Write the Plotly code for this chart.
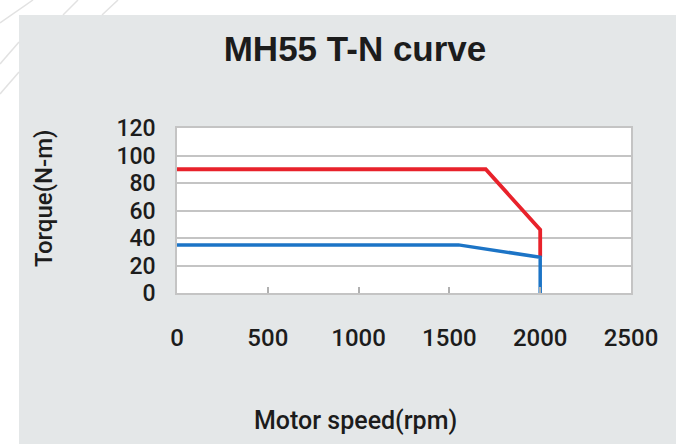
import plotly.graph_objects as go

# Data
speed_peak = [0, 1700, 2000, 2000]
torque_peak = [90, 90, 46, 26]
speed_rated = [0, 1550, 2000, 2000]
torque_rated = [35, 35, 26, 0]
x_ticks = [0, 500, 1000, 1500, 2000, 2500]
y_ticks = [0, 20, 40, 60, 80, 100, 120]

W, H = 676, 444
L, R, T, B = 177, 631, 128, 293  # plot area pixels


def px(x):
    return (x - L) / (R - L)


def py(y):
    return (B - y) / (B - T)


FONT = "Liberation Sans, Arial, sans-serif"
LFONT = "Roboto, Liberation Sans, Arial, sans-serif"
TXT = "#1c1c1c"
PANEL = "#e4e7e8"

fig = go.Figure()
fig.add_trace(go.Scatter(x=speed_peak, y=torque_peak, mode="lines",
                         line=dict(color="#e8222b", width=3.8), showlegend=False))
fig.add_trace(go.Scatter(x=speed_rated, y=torque_rated, mode="lines",
                         line=dict(color="#1c74c6", width=3.5), showlegend=False))

shapes = [
    dict(type="rect", xref="paper", yref="paper", x0=px(0), x1=px(W), y0=py(15), y1=py(0),
         fillcolor="white", line=dict(width=0), layer="below"),
    dict(type="rect", xref="paper", yref="paper", x0=px(0), x1=px(19), y0=py(H), y1=py(0),
         fillcolor="white", line=dict(width=0), layer="below"),
]
for (x0, y0, x1, y1) in [(33, 0, 0, 23), (78, 0, 63, 15), (118, 0, 102, 15),
                          (19, 42, 0, 64), (19, 72, 0, 94)]:
    shapes.append(dict(type="line", xref="paper", yref="paper", x0=px(x0), y0=py(y0),
                       x1=px(x1), y1=py(y1), line=dict(color="#e2e2e2", width=1.5), layer="below"))

fig.update_layout(
    width=W, height=H,
    margin=dict(l=L, r=W - R, t=T, b=H - B),
    paper_bgcolor=PANEL,
    plot_bgcolor="white",
    font=dict(family=LFONT, color=TXT),
    title=dict(text="<b>MH55 T-N curve</b>", font=dict(size=35, family=FONT, color=TXT),
               xref="paper", x=px(355), xanchor="center",
               yref="container", y=1 - 49 / H, yanchor="middle"),
    shapes=shapes,
    annotations=[
        dict(text="Motor speed(rpm)", xref="paper", yref="paper", x=px(355), y=py(420),
             showarrow=False, font=dict(size=25, color=TXT, family=LFONT, weight=500),
             xanchor="center", yanchor="middle"),
        dict(text="Torque(N-m)", xref="paper", yref="paper", x=px(44), y=py(199),
             showarrow=False, textangle=-90,
             font=dict(size=24, color=TXT, family=LFONT, weight=500),
             xanchor="center", yanchor="middle"),
    ],
    xaxis=dict(range=[0, 2500], tickvals=x_ticks, ticktext=[str(v) for v in x_ticks],
               showgrid=False, zeroline=False, showline=True, mirror=True,
               linecolor="#c4c4c4", linewidth=1.5, ticks="inside", ticklen=6,
               tickcolor="#b0b0b0", tickwidth=1.5,
               tickfont=dict(size=24, color=TXT, family=LFONT, weight=500),
               ticklabelstandoff=22),
    yaxis=dict(range=[0, 120], tickvals=y_ticks, ticktext=[str(v) for v in y_ticks],
               showgrid=True, gridcolor="#c4c4c4", gridwidth=1.5, zeroline=False,
               showline=True, mirror=True, linecolor="#c4c4c4", linewidth=1.5,
               ticks="", tickfont=dict(size=23, color=TXT, family=LFONT, weight=500),
               ticklabelstandoff=15),
)

fig.write_html("out.html", config={"displayModeBar": False},
               post_script="document.body.style.margin='0';document.body.style.padding='0';")
